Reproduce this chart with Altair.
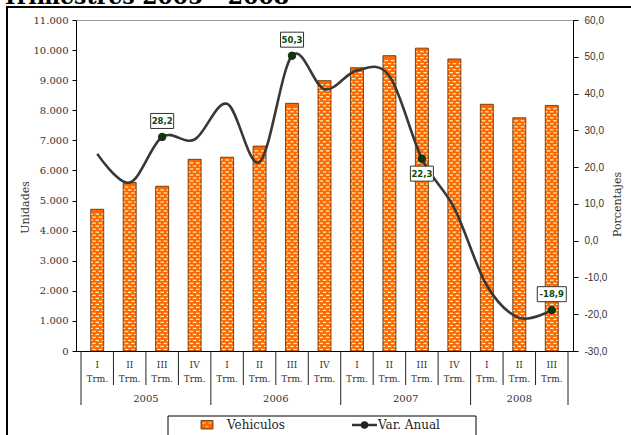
import altair as alt
import pandas as pd

# --- datos ---------------------------------------------------------------
anios = ["2005"] * 4 + ["2006"] * 4 + ["2007"] * 4 + ["2008"] * 3
trimestres = ["I", "II", "III", "IV"] * 3 + ["I", "II", "III"]
vehiculos = [4710, 5600, 5475, 6370, 6440, 6810, 8230, 8985,
             9415, 9815, 10065, 9705, 8200, 7750, 8160]
var_anual = [23.6, 15.8, 28.2, 27.5, 37.2, 21.4, 50.3, 41.2,
             46.3, 44.8, 22.3, 8.8, -12.2, -21.0, -18.9]
marcados = [2, 6, 10, 14]  # trimestres con marcador y etiqueta

df = pd.DataFrame({
    "i": list(range(len(vehiculos))),
    "anio": anios,
    "trim": trimestres,
    "veh": vehiculos,
    "var": var_anual,
})
uno = pd.DataFrame({"k": [0]})

# --- escalas y ejes ------------------------------------------------------
W, H = 497, 331
NARANJA = "#FF6600"
BORDE_BARRA = "#5A2A00"
PUNTOS = "#F4F0B8"
VERDE = "#0B4A0B"

xs = alt.Scale(domain=[-0.5, len(vehiculos) - 0.5], nice=False, zero=False)
x_axis = alt.Axis(labels=False, ticks=False, grid=False, title=None,
                  domainColor="#000", domainWidth=1)

eje_izq = alt.Axis(
    values=list(range(0, 11001, 1000)),
    labelExpr="replace(format(datum.value, ','), ',', '.')",
    labelFont="DejaVu Serif", labelFontSize=10, labelColor="#333",
    labelPadding=4, tickSize=4, tickColor="#000", domainColor="#000",
    grid=False, title="Unidades", titleFont="DejaVu Serif",
    titleFontSize=11, titleFontWeight="normal", titleColor="#333",
    titleX=-51, titleY=187, titleAngle=270, titleAlign="center",
    titleBaseline="middle",
)
eje_der = alt.Axis(
    orient="right",
    values=list(range(-30, 61, 10)),
    labelExpr="replace(replace(format(datum.value, '.1f'), '.', ','), '\u2212', '-')",
    labelFont="Liberation Sans", labelFontSize=10, labelColor="#333",
    labelPadding=6, tickSize=5, tickColor="#000", domainColor="#000",
    grid=False, title="Porcentajes", titleFont="DejaVu Serif",
    titleFontSize=11, titleFontWeight="normal", titleColor="#333",
    titleX=44, titleY=184, titleAngle=270, titleAlign="center",
    titleBaseline="middle",
)
ys_izq = alt.Scale(domain=[0, 11000], nice=False, zero=False)
ys_der = alt.Scale(domain=[-30, 60], nice=False, zero=False)


def X(campo="i"):
    return alt.X(f"{campo}:Q", scale=xs, axis=x_axis)


def YL(campo):
    return alt.Y(f"{campo}:Q", scale=ys_izq, axis=eje_izq)


def YR(campo):
    return alt.Y(f"{campo}:Q", scale=ys_der, axis=eje_der)


base = alt.Chart(df)

# --- barras con textura de puntos --------------------------------------
barras = base.mark_bar(size=13, color=NARANJA, stroke=BORDE_BARRA,
                       strokeWidth=0.8).encode(x=X(), y=YL("veh"))

patron = (
    base.transform_calculate(fila="sequence(0, floor((datum.veh - 40) / 100))")
    .transform_flatten(["fila"])
    .transform_calculate(yp="datum.fila * 100 + 50", par="datum.fila % 2")
)
textura = []
for par, desplaz, largo in [(0, -3.2, 3.6), (0, 3.2, 3.6),
                            (1, 0.0, 3.6), (1, -5.2, 1.6), (1, 5.2, 1.6)]:
    textura.append(
        patron.transform_filter(f"datum.par == {par}")
        .mark_tick(orient="horizontal", size=largo, thickness=1.3,
                   color=PUNTOS, opacity=1, xOffset=desplaz)
        .encode(x=X(), y=YL("yp"))
    )

# --- eje de categorías: trimestres y años -------------------------------
numerales = base.mark_text(font="DejaVu Serif", fontSize=9, color="#333",
                           baseline="middle").encode(
    x=X(), y=alt.value(345), text="trim:N")
trm = base.mark_text(text="Trm.", font="DejaVu Serif", fontSize=9,
                     color="#333", baseline="middle").encode(
    x=X(), y=alt.value(359))
sep_cortos = (
    base.transform_filter("datum.trim != 'I'")
    .transform_calculate(b="datum.i - 0.5")
    .mark_rule(color="#222", strokeWidth=1)
    .encode(x=X("b"), y=alt.value(H), y2=alt.value(H + 34))
)
sep_anios = (
    base.transform_joinaggregate(ult="max(i)")
    .transform_filter("datum.trim == 'I' || datum.i == datum.ult")
    .transform_calculate(b="datum.trim == 'I' ? datum.i - 0.5 : datum.i + 0.5")
    .mark_rule(color="#222", strokeWidth=1)
    .encode(x=X("b"), y=alt.value(H), y2=alt.value(H + 54))
)
etiq_anios = (
    base.transform_aggregate(c="mean(i)", groupby=["anio"])
    .mark_text(font="DejaVu Serif", fontSize=10, color="#333", baseline="middle")
    .encode(x=X("c"), y=alt.value(H + 48), text="anio:N")
)

# --- marco, título y leyenda -------------------------------------------
fijo = alt.Chart(uno)
titulo = fijo.mark_text(text="Trimestres 2005 - 2008", font="DejaVu Serif",
                        fontWeight="bold", fontSize=22, align="left",
                        baseline="alphabetic", color="#000").encode(
    x=alt.value(-74), y=alt.value(-16.5))
marco_izq = fijo.mark_rule(color="#000", strokeWidth=2).encode(
    x=alt.value(-69), y=alt.value(-13), y2=alt.value(430))
marco_sup = fijo.mark_rule(color="#000", strokeWidth=2).encode(
    x=alt.value(-70), x2=alt.value(570), y=alt.value(-13))

ley_caja = fijo.mark_rect(fill="white", stroke="#000", strokeWidth=1).encode(
    x=alt.value(92), x2=alt.value(400), y=alt.value(396), y2=alt.value(440))
ley_muestra = fijo.mark_rect(fill=NARANJA, stroke=BORDE_BARRA, strokeWidth=0.8).encode(
    x=alt.value(125), x2=alt.value(137), y=alt.value(400.5), y2=alt.value(409))
ley_puntos = [
    fijo.mark_tick(orient="horizontal", size=3, thickness=1.2, color=PUNTOS,
                   xOffset=dx).encode(x=alt.value(131), y=alt.value(yy))
    for dx, yy in [(-3, 403), (3, 403), (0, 406.5)]
]
ley_txt1 = fijo.mark_text(text="Vehiculos", align="left", baseline="middle",
                          font="DejaVu Serif", fontSize=12, color="#222").encode(
    x=alt.value(151), y=alt.value(405))
ley_linea = fijo.mark_rule(color="#333", strokeWidth=2.5).encode(
    x=alt.value(276), x2=alt.value(301), y=alt.value(405))
ley_punto = fijo.mark_point(filled=True, size=55, color="#222", opacity=1).encode(
    x=alt.value(288.5), y=alt.value(405))
ley_txt2 = fijo.mark_text(text="Var. Anual", align="left", baseline="middle",
                          font="DejaVu Serif", fontSize=12, color="#222").encode(
    x=alt.value(302), y=alt.value(405))

izquierda = alt.layer(
    barras, *textura, sep_cortos, sep_anios, numerales, trm, etiq_anios,
    titulo, marco_izq, marco_sup, ley_caja, ley_muestra, *ley_puntos,
    ley_txt1, ley_linea, ley_punto, ley_txt2,
)

# --- variación anual (eje derecho) ---------------------------------------
linea = base.mark_line(interpolate="cardinal", color="#383838",
                       strokeWidth=2.6).encode(x=X(), y=YR("var"))
sel = base.transform_filter(alt.FieldOneOfPredicate(field="i", oneOf=marcados))
puntos = sel.mark_point(filled=True, size=55, color="#0A3A0A", stroke="#222",
                        strokeWidth=1, opacity=1).encode(x=X(), y=YR("var"))

etiquetas = []
for k in marcados:
    texto = f"{var_anual[k]:.1f}".replace(".", ",")
    previo = var_anual[k - 1] if k > 0 else None
    siguiente = var_anual[k + 1] if k + 1 < len(var_anual) else None
    # debajo del punto cuando la serie viene cayendo a través de él
    debajo = (previo is not None and siguiente is not None
              and previo > var_anual[k] > siguiente)
    dy = 15 if debajo else -16
    ancho = 6 * len(texto) - 1
    un_punto = sel.transform_filter(f"datum.i == {k}")
    etiquetas.append(
        un_punto.mark_rect(fill="white", stroke="#333", strokeWidth=1,
                           xOffset=-ancho / 2, x2Offset=ancho / 2,
                           yOffset=dy - 7.5, y2Offset=dy + 7.5)
        .encode(x=X(), x2="i:Q", y=YR("var"), y2="var:Q")
    )
    etiquetas.append(
        un_punto.mark_text(text=texto, font="DejaVu Sans", fontWeight="bold",
                           fontSize=8.5, color=VERDE, baseline="middle", dy=dy)
        .encode(x=X(), y=YR("var"))
    )

derecha = alt.layer(linea, puntos, *etiquetas)

chart = (
    alt.layer(izquierda, derecha)
    .resolve_scale(y="independent")
    .properties(
        width=W, height=H,
        padding={"left": 76, "top": 20, "right": 58, "bottom": 84},
        autosize=alt.AutoSizeParams(type="none"),
        background="white",
    )
    .configure_view(stroke="#9a9a9a", strokeWidth=1)
)

chart.save("out.html", embed_options={"renderer": "svg", "actions": False})
